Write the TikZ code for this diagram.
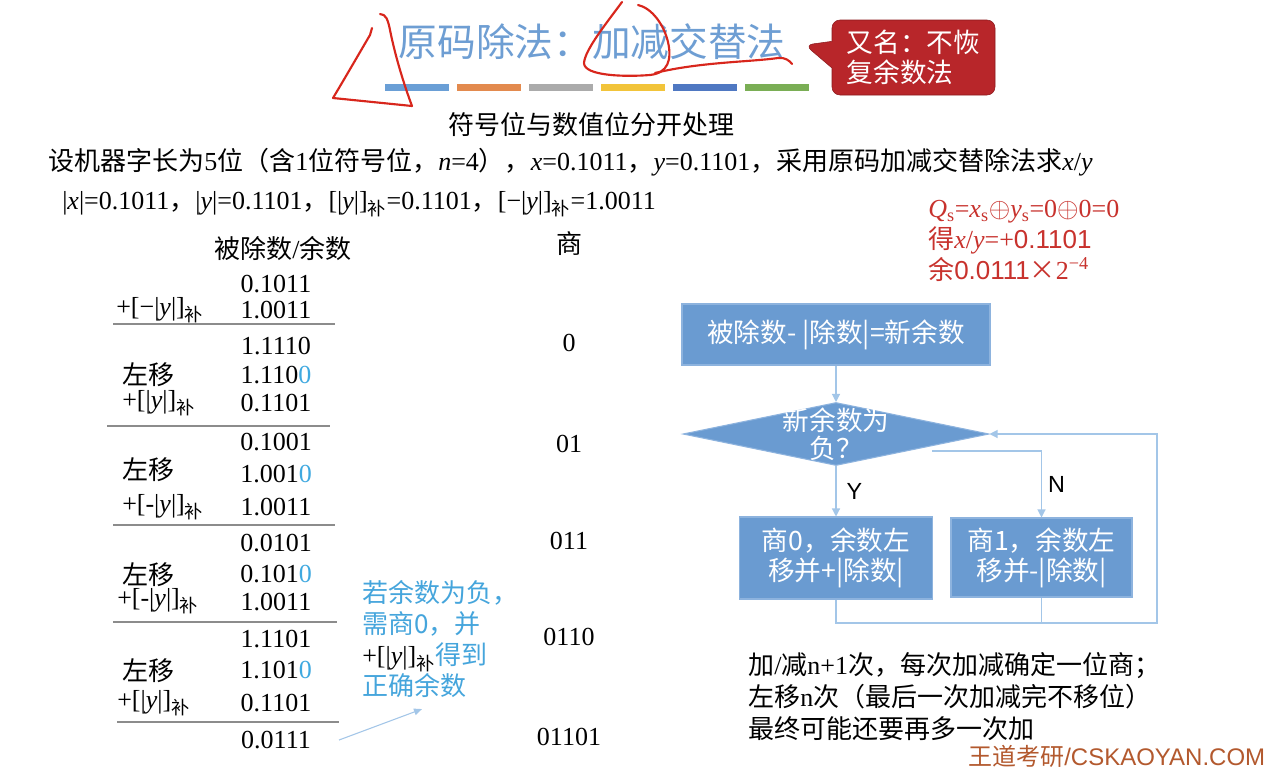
\documentclass[tikz,border=0pt]{standalone}
\usepackage{fontspec}
\setmainfont{Liberation Serif}
\setsansfont{Liberation Sans}
\newfontfamily\cjk{Noto Sans CJK SC}
\usetikzlibrary{shapes.geometric,shapes.callouts,arrows.meta}
\definecolor{titleblue}{HTML}{6E9ED3}
\definecolor{barblue}{HTML}{6A9FD6}
\definecolor{barorange}{HTML}{E38A4E}
\definecolor{bargray}{HTML}{ABABAB}
\definecolor{bargold}{HTML}{F2C43A}
\definecolor{bardeep}{HTML}{4F78C2}
\definecolor{bargreen}{HTML}{7AAE55}
\definecolor{flowfill}{HTML}{6A9BD1}
\definecolor{flowedge}{HTML}{8DB3DE}
\definecolor{linkblue}{HTML}{A3C6E8}
\definecolor{noteblue}{HTML}{45A5DC}
\definecolor{zeroblue}{HTML}{3FA9E0}
\definecolor{inkred}{HTML}{D8261C}
\definecolor{calloutred}{HTML}{B8262A}
\definecolor{calloutedge}{HTML}{8C1A1D}
\definecolor{resultred}{HTML}{C8322D}
\definecolor{markbrown}{HTML}{B3592E}
\definecolor{rulegray}{HTML}{8C8C8C}
\newcommand\zh[1]{{\cjk #1}}
\newcommand\bu{\textsubscript{\cjk 补}}
\newcommand\yv{\textit{y}}
\newcommand\zb[1]{\textcolor{zeroblue}{#1}}

\begin{document}
\begin{tikzpicture}[x=0.75pt, y=-0.75pt,
    every node/.style={inner sep=0pt, font=\fontsize{19.5}{23.4}\selectfont},
    txt/.style={anchor=west},
    rule/.style={draw=rulegray, line width=0.8pt},
    flowbox/.style={rectangle, draw=flowedge, line width=0.8pt, fill=flowfill, text=white, align=center, font=\cjk\fontsize{20}{22.5}\selectfont},
    decision/.style={diamond, draw=flowedge, line width=0.8pt, fill=flowfill, minimum width=229.5pt, minimum height=47.25pt},
    link/.style={draw=linkblue, line width=0.9pt, -{Triangle[length=6pt,width=6pt]}},
    linkline/.style={draw=linkblue, line width=0.9pt},
    pen/.style={draw=inkred, line width=1.6pt, line cap=round, line join=round}]
    \fill[white] (0,0) rectangle (1282,772);
    \useasboundingbox (0,0) rectangle (1282,772);

    % title, bars and callout
    \node[font=\cjk\fontsize{29}{34}\selectfont, text=titleblue] (title) at (592,42) {原码除法：加减交替法};
    \foreach \c [count=\i from 0] in {barblue,barorange,bargray,bargold,bardeep,bargreen}
        \fill[\c] (385+72*\i,84) rectangle ++(64,7);
    \node[rectangle callout, rounded corners=6pt, fill=calloutred, draw=calloutedge, text=white, align=left,
          minimum width=122.25pt, minimum height=56.25pt, font=\cjk\fontsize{20}{22.5}\selectfont,
          callout pointer width=20pt, callout absolute pointer={(805,45)}] (alias) at (913.5,57.5) {又名：不恢\\复余数法};
    \node (split) at (591,125) {\zh{符号位与数值位分开处理}};

    % problem statement
    \node[txt] (given) at (48,162) {\zh{设机器字长为}5\zh{位（含}1\zh{位符号位，}\textit{n}=4\zh{），}\textit{x}=0.1011\zh{，}\yv=0.1101\zh{，采用原码加减交替除法求}\textit{x}/\yv};
    \node[txt] (abs) at (62,204) {|\textit{x}|=0.1011\zh{，}|\yv|=0.1101\zh{，}[|\yv|]\bu=0.1101\zh{，}[−|\yv|]\bu=1.0011};

    % division table
    \node (head) at (283,249) {\zh{被除数}/\zh{余数}};
    \node (qhead) at (569,244) {\zh{商}};

    \node (r1) at (276,284) {0.1011};
    \node[txt] (l1) at (116,310) {+[−|\yv|]\bu};
    \node (r2) at (276,310) {1.0011};
    \draw[rule] (113,324) -- (335,324);
    \node (r3) at (276,346) {1.1110};
    \node[txt] (l2) at (122,375) {\zh{左移}};
    \node (r4) at (276,375) {1.110\zb{0}};
    \node[txt] (l3) at (122,403) {+[|\yv|]\bu};
    \node (r5) at (276,403) {0.1101};
    \draw[rule] (107,426) -- (330,426);
    \node (r6) at (276,442) {0.1001};
    \node[txt] (l4) at (122,470) {\zh{左移}};
    \node (r7) at (276,474) {1.001\zb{0}};
    \node[txt] (l5) at (122,507) {+[-|\yv|]\bu};
    \node (r8) at (276,507) {1.0011};
    \draw[rule] (113,525) -- (335,525);
    \node (r9) at (276,543) {0.0101};
    \node[txt] (l6) at (122,575) {\zh{左移}};
    \node (r10) at (276,574) {0.101\zb{0}};
    \node[txt] (l7) at (117,601) {+[-|\yv|]\bu};
    \node (r11) at (276,602) {1.0011};
    \draw[rule] (113,622) -- (337,622);
    \node (r12) at (276,639) {1.1101};
    \node[txt] (l8) at (122,671) {\zh{左移}};
    \node (r13) at (276,670) {1.101\zb{0}};
    \node[txt] (l9) at (117,703) {+[|\yv|]\bu};
    \node (r14) at (276,703) {0.1101};
    \draw[rule] (117,722) -- (339,722);
    \node (res) at (276,740) {0.0111};

    \node (q1) at (569,343) {0};
    \node (q2) at (569,444) {01};
    \node (q3) at (569,541) {011};
    \node (q4) at (569,637) {0110};
    \node (q5) at (569,737) {01101};

    % note on the last step
    \node[anchor=north west, align=left, text=noteblue, font=\fontsize{19.5}{23.4}\selectfont] (note) at (362,580)
        {\zh{若余数为负，}\\\zh{需商0，并}\\\textcolor{black}{+[|\yv|]\bu}\zh{得到}\\\zh{正确余数}};
    \draw[draw=linkblue, line width=0.8pt, -{Triangle[length=6pt,width=5pt]}] ([xshift=21pt]res.east) -- ([xshift=45pt,yshift=-8pt]note.south west);

    % result
    \node[anchor=north west, align=left, text=resultred] (result) at (928,200)
        {\textit{Q}\textsubscript{s}=\textit{x}\textsubscript{s}$\oplus$\yv\textsubscript{s}=0$\oplus$0=0\\
         \zh{得}\textit{x}/\yv=+{\sffamily 0.1101}\\
         \zh{余}{\sffamily 0.0111}\zh{×}2\textsuperscript{−4}};

    % flow chart
    \node[flowbox, minimum width=231pt, minimum height=45.75pt] (sub) at (836,334.5) {被除数- |除数|=新余数};
    \node[decision] (dec) at (836,434) {};
    \node[text=white, align=center, font=\cjk\fontsize{20}{21}\selectfont] (dectext) at (836,434) {新余数为\\负？};
    \node[flowbox, minimum width=144.75pt, minimum height=61.5pt] (neg) at (836,558) {商0，余数左\\移并+|除数|};
    \node[flowbox, minimum width=135.75pt, minimum height=59.25pt] (pos) at (1041.5,557.5) {商1，余数左\\移并-|除数|};
    \coordinate (nfrom) at (932,451);
    \coordinate (loopr) at (1157,623);

    \path (sub) edge[link] (dec);
    \path (dec.south) edge[link] node[right, xshift=7.5pt, font=\sffamily\fontsize{17.5}{20}\selectfont] {Y} (neg.north);
    \draw[link] (nfrom) -| node[pos=0.75, right, xshift=4.5pt, font=\sffamily\fontsize{17.5}{20}\selectfont] {N} (pos.north);
    \draw[link] (neg.south) |- (loopr) |- (dec.east);
    \draw[linkline] (pos.south) -- (pos.south |- loopr);

    % summary
    \node[anchor=north west, align=left, font=\fontsize{19.5}{24}\selectfont] (sum) at (748,652)
        {\zh{加}/\zh{减}n+1\zh{次，每次加减确定一位商；}\\
         \zh{左移}n\zh{次（最后一次加减完不移位）}\\
         \zh{最终可能还要再多一次加}};
    \node[txt, text=markbrown, font=\sffamily\fontsize{18}{20}\selectfont] (brand) at (968,756) {\zh{王道考研}/CSKAOYAN.COM};

    % pen marks
    \draw[pen] (372,28) -- (370,35) .. controls (360,52) and (345,78) .. (333,98) -- (412,106);
    \draw[pen] (380,14) .. controls (386,14) and (388,20) .. (390,30) .. controls (396,60) and (406,90) .. (412,106);
    \draw[pen] (622,2) .. controls (605,25) and (585,50) .. (584,63) .. controls (584,76) and (625,77) .. (650,75)
        .. controls (668,73) and (672,60) .. (668,42) .. controls (664,25) and (652,8) .. (638,5);
    \draw[pen] (655,73) .. controls (700,62) and (750,62) .. (778,58) .. controls (785,57) and (790,61) .. (792,64);
\end{tikzpicture}
\end{document}
